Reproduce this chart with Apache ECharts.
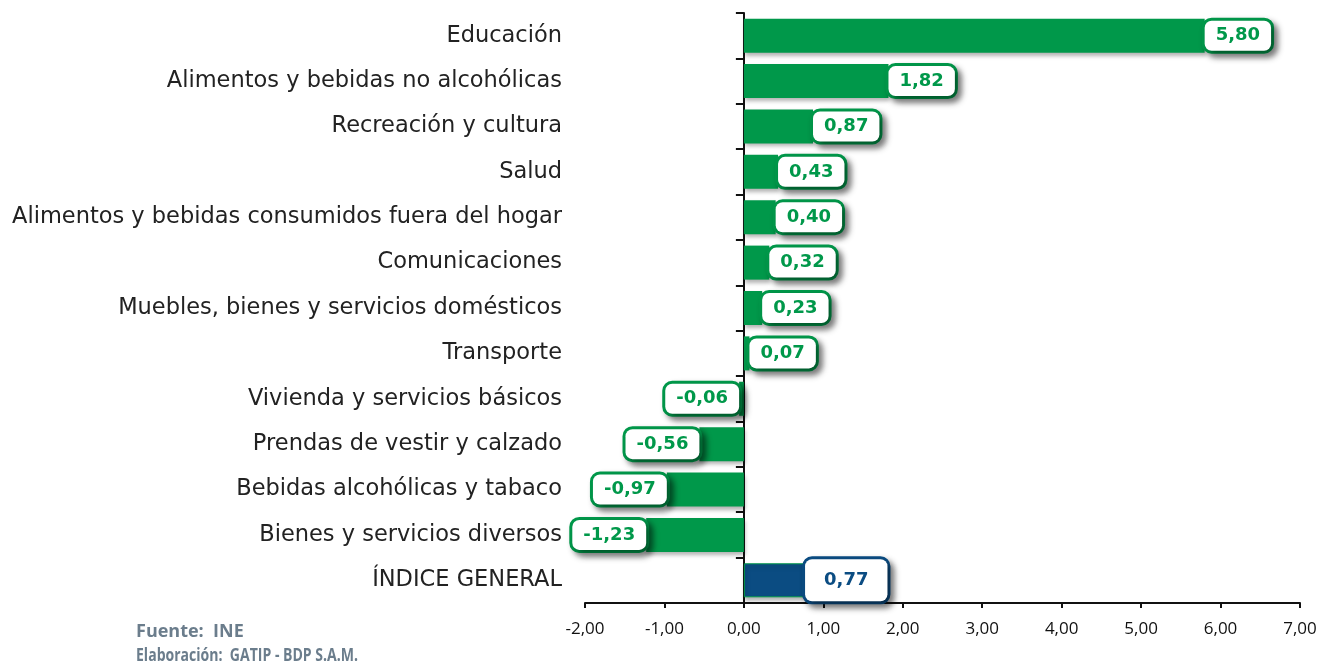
<!DOCTYPE html>
<html><head><meta charset="utf-8">
<script src="https://cdn.jsdelivr.net/npm/echarts@6/dist/echarts.min.js"></script>
<style>html,body{margin:0;padding:0;background:#fff}#c{width:1324px;height:668px}</style>
</head><body><div id="c"></div>
<script>
const categories = ["Educación","Alimentos y bebidas no alcohólicas","Recreación y cultura","Salud","Alimentos y bebidas consumidos fuera del hogar","Comunicaciones","Muebles, bienes y servicios domésticos","Transporte","Vivienda y servicios básicos","Prendas de vestir y calzado","Bebidas alcohólicas y tabaco","Bienes y servicios diversos","ÍNDICE GENERAL"];
const values = [5.80,1.82,0.87,0.43,0.40,0.32,0.23,0.07,-0.06,-0.56,-0.97,-1.23,0.77];
const highlight = "ÍNDICE GENERAL";
const xTicksMin = -2, xTicksMax = 7, xTickStep = 1;

const GREEN = '#00984a', BLUE = '#0b4c82';
const fmt = v => v.toFixed(2).replace('.', ',');

const data = values.map((v, i) => {
  const isIdx = categories[i] === highlight;
  const col = isIdx ? BLUE : GREEN;
  return {
    value: v,
    itemStyle: { color: col, borderColor: isIdx ? GREEN : col, borderWidth: isIdx ? 1 : 0 },
    label: {
      show: true,
      position: v < 0 ? 'left' : 'right',
      distance: 0,
      formatter: () => fmt(v),
      color: col,
      fontFamily: 'DejaVu Sans',
      fontWeight: 'bold',
      fontSize: 18,
      lineHeight: 20,
      backgroundColor: '#fff',
      borderColor: col,
      borderWidth: 3,
      borderRadius: 7,
      padding: isIdx ? [11, 19] : [5, 11],
      shadowColor: 'rgba(0,0,0,0.45)',
      shadowBlur: 6,
      shadowOffsetX: 4,
      shadowOffsetY: 4
    }
  };
});

const chart = echarts.init(document.getElementById('c'), null, {renderer: 'canvas'});
chart.setOption({
  animation: false,
  grid: { left: 585, right: 24, top: 13, bottom: 65, containLabel: false, outerBoundsMode: 'none' },
  xAxis: {
    type: 'value', min: xTicksMin, max: xTicksMax, interval: xTickStep,
    splitLine: { show: false },
    axisLine: { show: true, lineStyle: { color: '#111', width: 2 } },
    axisTick: { show: true, length: 5, lineStyle: { color: '#111', width: 2 } },
    axisLabel: { formatter: v => fmt(v), color: '#111', fontSize: 17, fontFamily: 'Open Sans', margin: 18 }
  },
  yAxis: {
    type: 'category', data: categories, inverse: true,
    axisLine: { show: true, onZero: true, lineStyle: { color: '#111', width: 2 } },
    axisTick: { show: true, length: 8, lineStyle: { color: '#111', width: 2 } },
    axisLabel: { color: '#222', fontSize: 22.5, fontFamily: 'DejaVu Sans', margin: 23 }
  },
  series: [{
    type: 'bar', data: data, barCategoryGap: '25%',
    itemStyle: { shadowColor: 'rgba(0,0,0,0.3)', shadowBlur: 4, shadowOffsetY: 3, shadowOffsetX: 1 }
  }],
  graphic: [
    { type: 'text', left: 136, top: 623, style: { text: 'Fuente:  INE', fill: '#6b7d8c', font: 'bold 18px "Open Sans"' } },
    { type: 'text', left: 136, top: 647, scaleX: 0.78, style: { text: 'Elaboración:  GATIP - BDP S.A.M.', fill: '#6b7d8c', font: 'bold 18px "Open Sans"' } }
  ]
});
</script></body></html>
